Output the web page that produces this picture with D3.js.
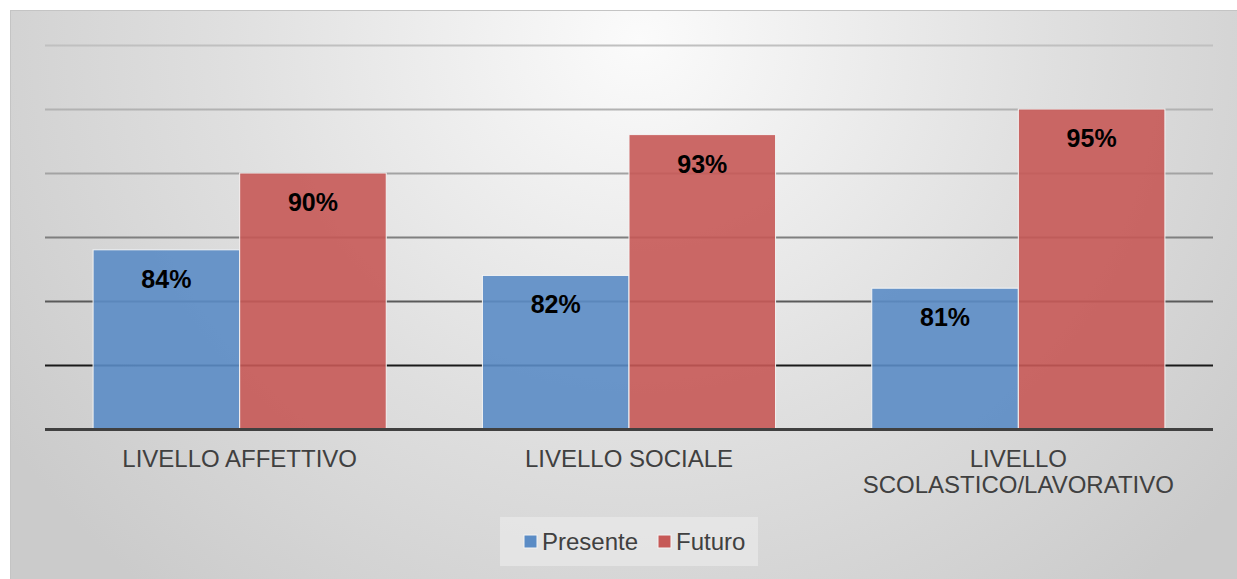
<!DOCTYPE html>
<html>
<head>
<meta charset="utf-8">
<script src="https://cdn.jsdelivr.net/npm/d3@7/dist/d3.min.js"></script>
<style>
  html, body { margin: 0; padding: 0; background: #fff; }
  svg { display: block; font-family: "Liberation Sans", Arial, sans-serif; }
</style>
</head>
<body>
<svg id="chart" width="1237" height="579"></svg>
<script>
// Chart data
const categories = [["LIVELLO AFFETTIVO"], ["LIVELLO SOCIALE"], ["LIVELLO", "SCOLASTICO/LAVORATIVO"]];
const seriesNames = ["Presente", "Futuro"];
const presente = [84, 82, 81];
const futuro = [90, 93, 95];
const gridTicks = [70, 75, 80, 85, 90, 95, 100];
const seriesColors = ["#5b8cc5", "#c65957"];

const svg = d3.select("#chart");
const W = 1237, H = 579;

// Background panel with a soft radial gradient
const defs = svg.append("defs");
const rg = defs.append("radialGradient").attr("id", "bg")
  .attr("gradientUnits", "userSpaceOnUse")
  .attr("cx", 640).attr("cy", 40).attr("r", 760)
  .attr("gradientTransform", "translate(640,40) scale(1,0.95) translate(-640,-40)");
rg.append("stop").attr("offset", "0").attr("stop-color", "#fbfbfb");
rg.append("stop").attr("offset", "0.55").attr("stop-color", "#dfdfdf");
rg.append("stop").attr("offset", "1").attr("stop-color", "#cbcbcb");

svg.append("rect").attr("x", 10.5).attr("y", 10.5).attr("width", W - 10).attr("height", H - 10)
  .attr("fill", "url(#bg)").attr("stroke", "#c4c4c4").attr("stroke-width", 1);

const plot = { left: 45, right: 1213, top: 45, bottom: 429 };

const x0 = d3.scaleBand().domain(d3.range(categories.length))
  .range([plot.left, plot.right]).paddingInner(0.247).paddingOuter(0.1235);
const x1 = d3.scaleBand().domain(d3.range(seriesNames.length)).range([0, x0.bandwidth()]);
const y = d3.scaleLinear().domain([70, 100]).range([plot.bottom, plot.top]);

// Gridlines, fading from light grey at the top to black lower down
const gridColor = d3.scaleLinear().domain([100, 90, 80, 75])
  .range(["#c0c0c0", "#a3a3a3", "#5a5a5a", "#1a1a1a"]);
svg.append("g").selectAll("line")
  .data(gridTicks.filter(t => t > 70))
  .join("line")
  .attr("x1", plot.left).attr("x2", plot.right)
  .attr("y1", d => Math.round(y(d)) + 0.5).attr("y2", d => Math.round(y(d)) + 0.5)
  .attr("stroke", d => gridColor(d)).attr("stroke-width", 2);

// Bars
const data = categories.map((c, i) => ({ i, values: [presente[i], futuro[i]] }));
const groups = svg.append("g").selectAll("g").data(data).join("g")
  .attr("transform", d => `translate(${x0(d.i)},0)`);

groups.selectAll("rect")
  .data(d => d.values.map((v, s) => ({ v, s })))
  .join("rect")
  .attr("x", d => x1(d.s))
  .attr("y", d => y(d.v))
  .attr("width", x1.bandwidth())
  .attr("height", d => y(70) - y(d.v))
  .attr("fill", d => seriesColors[d.s])
  .attr("fill-opacity", 0.9)
  .attr("stroke", "#f4f4f4").attr("stroke-width", 1);

groups.selectAll("text")
  .data(d => d.values.map((v, s) => ({ v, s })))
  .join("text")
  .attr("x", d => x1(d.s) + x1.bandwidth() / 2)
  .attr("y", d => y(d.v) + 38)
  .attr("text-anchor", "middle")
  .attr("font-size", 25).attr("font-weight", "bold").attr("fill", "#000")
  .text(d => d.v + "%");

// Baseline
svg.append("line")
  .attr("x1", plot.left).attr("x2", plot.right)
  .attr("y1", y(70) + 0.5).attr("y2", y(70) + 0.5)
  .attr("stroke", "#404040").attr("stroke-width", 3);

// Category labels
const labels = svg.append("g").selectAll("text").data(categories).join("text")
  .attr("x", (d, i) => x0(i) + x0.bandwidth() / 2)
  .attr("y", 467)
  .attr("text-anchor", "middle")
  .attr("font-size", 24).attr("fill", "#404040");
labels.selectAll("tspan").data(d => d).join("tspan")
  .attr("x", function () { return d3.select(this.parentNode).attr("x"); })
  .attr("dy", (d, j) => j === 0 ? 0 : 26)
  .text(d => d);

// Legend
const legend = svg.append("g");
legend.append("rect").attr("x", 500).attr("y", 517).attr("width", 258).attr("height", 49)
  .attr("fill", "#e9e9e9").attr("opacity", 0.7);
const legendX = [524, 658];
seriesNames.forEach((name, s) => {
  legend.append("rect").attr("x", legendX[s]).attr("y", 535).attr("width", 13).attr("height", 13)
    .attr("fill", seriesColors[s]).attr("stroke", "#f4f4f4").attr("stroke-width", 1);
  legend.append("text").attr("x", legendX[s] + 18).attr("y", 550)
    .attr("font-size", 24).attr("fill", "#404040").text(name);
});
</script>
</body>
</html>
